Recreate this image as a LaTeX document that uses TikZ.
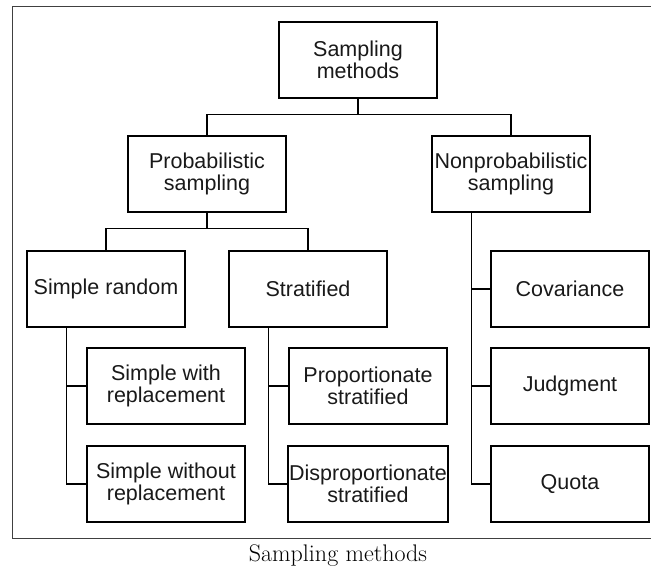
\documentclass[tikz,border=0pt]{standalone}
\usepackage{fontspec}
\setsansfont{Liberation Sans}
\usetikzlibrary{positioning}

\begin{document}
\begin{tikzpicture}[
    x=1pt, y=-1pt, thick,
    method/.style={draw, line width=1.5pt, minimum width=158pt, minimum height=76pt, inner sep=1pt,
        align=center, text=black!90, font=\sffamily\fontsize{21.5}{21.5}\selectfont},
    link/.style={line width=1.3pt}
]
\useasboundingbox (0,0) rectangle (651,569);

% -------------------------
% Outer frame and caption
% -------------------------
\draw[line width=1pt, black!75] (12,7) rectangle (660,538);
\node[font=\fontsize{24}{26}\selectfont] (caption) at (338,556) {Sampling methods};

% -------------------------
% Top levels
% -------------------------
\node[method] (root) at (358,60) {Sampling\\methods};
\node[method] (prob) at (207,174) {Probabilistic\\sampling};
\node[method] (nonprob) at (511,174) {Nonprobabilistic\\sampling};

% -------------------------
% Third level
% -------------------------
\node[method] (srand) at (106,289) {Simple random};
\node[method] (strat) at (308,289) {Stratified};
\node[method] (cov) at (570,289) {Covariance};

% -------------------------
% Leaves
% -------------------------
\node[method] (swith) at (166,386) {Simple with\\replacement};
\node[method] (swithout) at (166,484) {Simple without\\replacement};
\node[method] (prop) at (368,386) {Proportionate\\stratified};
\node[method] (disprop) at (368,484) {Disproportionate\\stratified};
\node[method] (judg) at (570,386) {Judgment};
\node[method] (quota) at (570,484) {Quota};

% -------------------------
% Tree links
% -------------------------
\draw[link] (root.south) -- ++(0,16) -| (prob.north);
\draw[link] (root.south) -- ++(0,16) -| (nonprob.north);
\draw[link] (prob.south) -- ++(0,16) -| (srand.north);
\draw[link] (prob.south) -- ++(0,16) -| (strat.north);

% Side stems
\draw[link] (srand.south west) ++(40,0) |- (swith.west);
\draw[link] (srand.south west) ++(40,0) |- (swithout.west);
\draw[link] (strat.south west) ++(40,0) |- (prop.west);
\draw[link] (strat.south west) ++(40,0) |- (disprop.west);
\draw[link] (nonprob.south west) ++(40,0) |- (cov.west);
\draw[link] (nonprob.south west) ++(40,0) |- (judg.west);
\draw[link] (nonprob.south west) ++(40,0) |- (quota.west);

\end{tikzpicture}
\end{document}
